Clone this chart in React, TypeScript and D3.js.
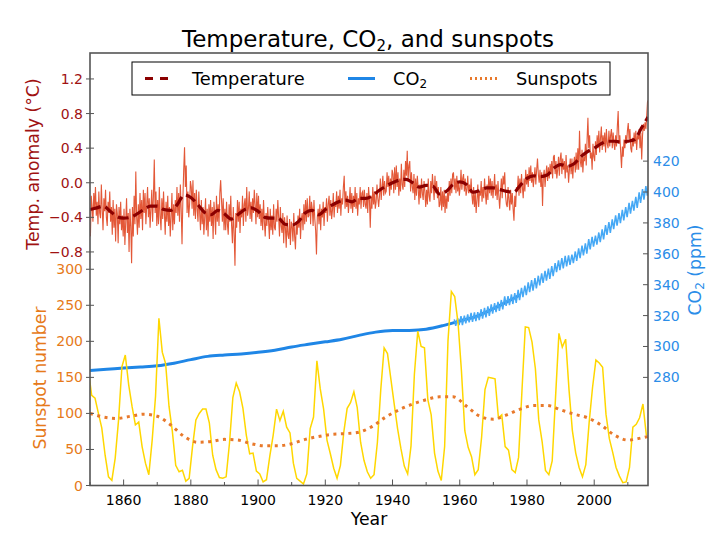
import React from 'react';
import * as d3 from 'd3';

// ---------------- data ----------------
// Quarterly temperature anomaly (°C), 1850.125 ... 2015.875
const tempRaw: number[] = [
  // 1850s
  -0.62, -0.15, -0.28, -0.45, -0.12, -0.30, -0.05, -0.38, -0.22, -0.48, -0.10, -0.35, -0.41, -0.02, -0.30, -0.55, -0.18, -0.33, -0.08, -0.40,
  -0.50, -0.22, -0.35, -0.10, -0.45, -0.28, -0.60, -0.20, -0.52, -0.30, -0.68, -0.25, -0.36, -0.70, -0.28, -0.48, -0.22, -0.55, -0.38, -0.62,
  // 1860s
  -0.30, -0.72, -0.45, -0.18, -0.58, -0.35, -0.80, -0.30, -0.50, -0.93, -0.28, -0.62, -0.15, -0.48, 0.13, -0.40, -0.60, -0.25, -0.52, -0.12,
  -0.42, -0.20, -0.55, -0.08, -0.35, -0.12, -0.48, -0.25, -0.05, -0.40, -0.18, -0.52, -0.30, -0.08, -0.45, -0.15, 0.27, -0.35, -0.10, -0.50,
  // 1870s
  -0.20, -0.48, -0.05, -0.38, -0.55, -0.18, -0.42, -0.10, -0.35, -0.60, -0.22, -0.45, -0.15, -0.50, -0.28, -0.62, -0.40, -0.12, -0.55, -0.25,
  -0.48, -0.20, -0.35, -0.05, -0.38, -0.12, -0.45, -0.02, -0.30, -0.71, -0.20, 0.15, 0.41, -0.05, 0.20, -0.35, -0.10, -0.40, -0.25, 0.02,
  // 1880s
  -0.05, -0.30, 0.03, -0.38, -0.12, -0.42, -0.08, -0.30, -0.45, -0.10, -0.35, -0.55, -0.20, -0.48, -0.28, -0.60, -0.40, -0.18, -0.55, -0.30,
  -0.62, -0.25, -0.45, -0.20, -0.50, -0.28, -0.65, -0.22, -0.38, -0.60, -0.15, -0.45, -0.25, -0.50, -0.12, 0.03, -0.20, -0.45, -0.18, -0.55,
  // 1890s
  -0.30, -0.55, -0.22, -0.48, -0.60, -0.25, -0.45, -0.15, -0.50, -0.70, -0.28, -0.58, -0.96, -0.35, -0.52, -0.20, -0.45, -0.22, -0.58, -0.30,
  -0.40, -0.15, -0.50, -0.25, -0.18, -0.45, -0.05, -0.38, -0.30, -0.10, -0.42, -0.22, -0.45, -0.18, -0.35, -0.08, -0.25, -0.48, -0.12, -0.40,
  // 1900s
  -0.15, -0.42, -0.25, -0.50, -0.30, -0.55, -0.20, -0.45, -0.62, -0.35, -0.50, -0.28, -0.45, -0.65, -0.30, -0.55, -0.38, -0.60, -0.25, -0.52,
  -0.55, -0.30, -0.45, -0.20, -0.40, -0.62, -0.28, -0.50, -0.58, -0.35, -0.70, -0.40, -0.52, -0.75, -0.38, -0.60, -0.65, -0.42, -0.72, -0.45,
  // 1910s
  -0.50, -0.68, -0.35, -0.62, -0.77, -0.45, -0.60, -0.38, -0.52, -0.30, -0.65, -0.42, -0.35, -0.55, -0.25, -0.48, -0.20, -0.45, -0.18, -0.40,
  -0.38, -0.15, -0.48, -0.22, -0.30, -0.50, -0.20, -0.42, -0.55, -0.83, -0.40, -0.30, -0.48, -0.25, -0.55, -0.30, -0.40, -0.22, -0.50, -0.28,
  // 1920s
  -0.35, -0.18, -0.45, -0.25, -0.15, -0.38, -0.20, -0.42, -0.32, -0.12, -0.40, -0.22, -0.28, -0.10, -0.35, -0.15, -0.30, -0.08, -0.38, -0.18,
  -0.25, -0.05, 0.08, -0.30, -0.10, -0.28, -0.15, -0.35, -0.22, -0.05, -0.30, -0.12, -0.35, -0.15, -0.28, -0.05, -0.30, -0.12, -0.38, -0.18,
  // 1930s
  -0.25, -0.05, -0.30, -0.12, -0.10, -0.28, -0.08, -0.25, -0.30, -0.12, -0.35, -0.05, -0.20, -0.52, -0.15, -0.30, -0.05, -0.25, -0.10, -0.30,
  -0.22, -0.02, -0.18, -0.28, -0.15, 0.05, -0.20, -0.05, 0.08, -0.15, 0.02, -0.12, -0.10, 0.12, -0.05, 0.08, -0.15, 0.05, -0.08, 0.15,
  // 1940s
  0.10, -0.12, 0.18, -0.08, 0.20, -0.05, 0.12, -0.15, 0.05, -0.10, 0.22, -0.02, -0.08, 0.15, -0.05, 0.25, 0.08, 0.37, 0.02, 0.20,
  0.25, -0.10, 0.12, -0.05, -0.12, 0.10, -0.20, 0.05, -0.15, 0.08, -0.05, -0.25, -0.02, -0.18, 0.05, -0.12, -0.20, 0.02, -0.10, -0.28,
  // 1950s
  -0.08, -0.25, 0.05, -0.15, -0.22, 0.02, -0.12, 0.10, -0.05, -0.20, 0.08, -0.12, 0.02, -0.18, -0.05, -0.28, -0.25, -0.05, -0.32, -0.10,
  -0.28, -0.08, -0.35, -0.15, -0.30, -0.12, -0.22, 0.02, -0.15, 0.05, -0.12, 0.10, 0.12, -0.08, 0.05, -0.12, 0.08, -0.10, 0.02, -0.15,
  // 1960s
  -0.05, 0.15, -0.08, 0.05, 0.10, -0.10, 0.05, -0.15, -0.08, 0.08, -0.12, -0.02, -0.12, 0.05, -0.15, -0.25, -0.05, -0.28, -0.12, -0.35,
  -0.20, -0.02, -0.28, -0.10, -0.15, 0.02, -0.22, -0.05, -0.18, 0.05, -0.12, -0.25, -0.02, -0.20, 0.08, -0.12, 0.05, -0.15, 0.02, -0.18,
  // 1970s
  -0.05, 0.10, -0.15, -0.02, -0.20, 0.02, -0.15, -0.30, -0.12, 0.05, -0.18, 0.08, -0.02, 0.12, -0.15, -0.25, -0.28, -0.05, -0.20, -0.32,
  -0.08, -0.25, -0.12, -0.30, -0.44, -0.15, -0.28, -0.05, -0.10, 0.08, -0.15, 0.05, -0.12, 0.10, -0.05, -0.18, 0.05, -0.10, 0.15, -0.02,
  // 1980s
  0.10, -0.05, 0.18, 0.02, 0.20, 0.00, 0.12, -0.05, 0.05, 0.18, -0.02, 0.15, 0.28, 0.10, 0.00, 0.15, -0.05, 0.12, -0.27, 0.08,
  0.15, -0.05, 0.10, 0.20, 0.02, 0.18, 0.05, 0.22, 0.10, 0.25, 0.05, 0.30, 0.32, 0.10, 0.25, 0.05, 0.15, 0.30, 0.08, 0.28,
  // 1990s
  0.35, 0.10, 0.28, 0.15, 0.25, 0.05, 0.32, 0.12, 0.20, 0.00, 0.15, 0.28, 0.10, 0.28, 0.05, 0.22, 0.30, 0.12, 0.35, 0.15,
  0.40, 0.15, 0.60, 0.25, 0.18, 0.38, 0.12, 0.30, 0.25, 0.45, 0.20, 0.50, 0.75, 0.40, 0.55, 0.28, 0.35, 0.15, 0.45, 0.30,
  // 2000s
  0.25, 0.48, 0.32, 0.55, 0.40, 0.60, 0.35, 0.52, 0.65, 0.38, 0.55, 0.42, 0.58, 0.35, 0.62, 0.45, 0.40, 0.60, 0.42, 0.55,
  0.62, 0.40, 0.58, 0.45, 0.38, 0.55, 0.42, 0.65, 0.83, 0.45, 0.55, 0.35, 0.17, 0.42, 0.30, 0.50, 0.40, 0.55, 0.45, 0.60,
  // 2010s
  0.69, 0.50, 0.62, 0.40, 0.35, 0.52, 0.42, 0.58, 0.45, 0.60, 0.38, 0.55, 0.50, 0.62, 0.40, 0.58, 0.27, 0.55, 0.68, 0.60,
  0.70, 0.62, 0.78, 0.95,
];

// Smoothed temperature, every 2 years 1850..2016
const tempSmooth: number[] = [
  -0.31, -0.29, -0.27, -0.33, -0.39, -0.41, -0.40, -0.36, -0.31, -0.27,
  -0.27, -0.31, -0.32, -0.25, -0.14, -0.17, -0.25, -0.34, -0.37, -0.32,
  -0.36, -0.42, -0.37, -0.31, -0.29, -0.33, -0.40, -0.41, -0.41, -0.48,
  -0.49, -0.45, -0.35, -0.32, -0.37, -0.31, -0.26, -0.22, -0.20, -0.22,
  -0.18, -0.18, -0.15, -0.09, -0.04, 0.00, 0.03, 0.04, 0.00, -0.05,
  -0.03, -0.04, -0.13, -0.10, -0.02, 0.01, -0.02, -0.11, -0.09, -0.06,
  -0.06, -0.08, -0.10, -0.11, -0.03, 0.05, 0.08, 0.07, 0.09, 0.17,
  0.21, 0.19, 0.22, 0.30, 0.36, 0.40, 0.45, 0.48, 0.48, 0.47,
  0.48, 0.50, 0.63, 0.76,
];

// Yearly sunspot number 1849..2015
const sunspots: number[] = [
  160,
  125, 121, 100, 80, 42, 12, 7, 38, 91, 165,
  181, 140, 110, 84, 88, 54, 31, 15, 63, 124,
  232, 185, 169, 110, 75, 28, 19, 21, 6, 10,
  54, 91, 100, 106, 106, 87, 42, 22, 11, 10,
  12, 59, 122, 142, 130, 107, 70, 44, 45, 20,
  16, 5, 8, 41, 70, 106, 90, 103, 81, 73,
  31, 10, 6, 2, 16, 79, 95, 173, 134, 106,
  63, 44, 24, 10, 28, 74, 107, 115, 130, 108,
  60, 35, 19, 10, 15, 60, 133, 191, 183, 148,
  113, 79, 51, 27, 16, 55, 154, 214, 193, 191,
  119, 98, 45, 20, 7, 54, 201, 269, 262, 225,
  159, 76, 53, 40, 15, 22, 67, 133, 150, 149,
  148, 94, 98, 54, 49, 22, 18, 39, 131, 220,
  219, 199, 162, 91, 61, 21, 15, 34, 123, 211,
  192, 203, 133, 76, 45, 25, 12, 29, 88, 136,
  174, 170, 164, 99, 65, 46, 25, 13, 4, 5,
  25, 81, 85, 94, 113, 70,
];

// Smoothed sunspot number
const sunSmoothYears: number[] = [
  1850, 1854, 1858, 1862, 1866, 1870, 1874, 1878, 1882, 1886, 1890, 1894, 1898, 1902, 1906,
  1910, 1914, 1918, 1922, 1926, 1930, 1934, 1938, 1942, 1946, 1950, 1954, 1958, 1962, 1966,
  1970, 1974, 1978, 1982, 1986, 1990, 1994, 1998, 2002, 2006, 2010, 2014, 2016,
];
const sunSmooth: number[] = [
  100, 95, 93, 96, 99, 96, 84, 68, 60, 61, 64, 63, 58, 55, 55,
  58, 64, 68, 71, 72, 74, 82, 95, 105, 113, 119, 123, 123, 110, 96,
  92, 98, 106, 111, 111, 105, 99, 94, 84, 70, 63, 66, 68,
];

// Ice-core CO2 (ppm)
const co2IceYears: number[] = [
  1850, 1855, 1860, 1865, 1870, 1875, 1880, 1885, 1890, 1895, 1900, 1905, 1910, 1915,
  1920, 1925, 1930, 1935, 1940, 1945, 1950, 1955, 1960, 1965, 1970, 1975, 1978,
];
const co2Ice: number[] = [
  284.5, 285.2, 286.0, 286.7, 287.5, 289.2, 291.5, 293.6, 294.5, 295.2, 296.2, 297.6, 299.7, 301.4,
  303.0, 304.7, 307.2, 309.3, 310.3, 310.4, 311.2, 313.5, 316.5, 319.5, 324.5, 330.0, 333.5,
];

// Mauna Loa CO2, May maxima and October minima, 1958..2016
const co2May: number[] = [
  317.5, 318.3, 319.6, 320.0, 320.8, 321.7, 322.1, 322.3, 324.1, 325.0,
  325.9, 327.3, 328.1, 328.9, 330.1, 332.5, 332.6, 333.7, 334.6, 336.6,
  338.0, 339.4, 341.5, 343.0, 344.2, 345.8, 347.4, 348.9, 350.4, 352.0,
  354.0, 355.7, 357.2, 358.6, 359.0, 359.5, 361.5, 363.6, 365.3, 366.8,
  369.5, 371.0, 371.8, 373.8, 375.8, 378.5, 380.5, 382.3, 384.9, 386.4,
  388.5, 390.2, 393.0, 394.3, 396.8, 399.8, 401.9, 403.9, 407.7,
];
const co2Oct: number[] = [
  313.3, 313.8, 313.9, 315.0, 315.6, 316.0, 316.4, 317.0, 318.1, 318.9,
  319.8, 321.3, 322.2, 323.1, 324.0, 326.3, 326.7, 327.5, 328.3, 330.0,
  331.9, 333.2, 335.2, 336.1, 337.6, 339.6, 341.1, 342.6, 343.8, 345.6,
  348.2, 349.5, 350.5, 351.9, 352.9, 353.9, 355.4, 357.2, 359.0, 360.1,
  362.8, 364.7, 366.0, 367.5, 369.4, 372.3, 373.6, 376.0, 378.2, 379.9,
  381.6, 383.7, 386.0, 387.9, 389.7, 392.9, 395.1, 397.6, 401.5,
];

const tempTicks = [-0.8, -0.4, 0.0, 0.4, 0.8, 1.2];
const sunTicks = [0, 50, 100, 150, 200, 250, 300];
const co2Ticks = [280, 300, 320, 340, 360, 380, 400, 420];
const yearTicks = [1860, 1880, 1900, 1920, 1940, 1960, 1980, 2000];
const yearMinor = [1850, 1870, 1890, 1910, 1930, 1950, 1970, 1990, 2010];

// ---------------- styles ----------------
const FONT = "'DejaVu Sans', Verdana, sans-serif";
const C_TEMP_RAW = '#e04622';
const C_TEMP_SMOOTH = '#8b0000';
const C_TEMP_AXIS = '#a01212';
const C_SUN_RAW = '#ffd700';
const C_SUN_SMOOTH = '#e8792b';
const C_SUN_AXIS = '#e67a1a';
const C_CO2 = '#1f86e6';
const C_CO2_ML = '#45a8f5';
const C_CO2_AXIS = '#2b8de8';
const C_SPINE = '#555555';

const L = 90, R = 648, T = 53, B = 485.5;

export default function App() {
  const x = d3.scaleLinear().domain([1850, 2016]).range([L, R]);
  const yT = d3.scaleLinear().domain([-3.5, 1.5]).range([B, T]);
  const yS = d3.scaleLinear().domain([0, 600]).range([B, T]);
  const yC = d3.scaleLinear().domain([210, 490]).range([B, T]);

  const rawPts: [number, number][] = tempRaw.map((v, i) => [1850 + i * 0.25 + 0.125, v]);
  const smPts: [number, number][] = tempSmooth.map((v, i) => [1850 + i * 2, v]);
  const sunPts: [number, number][] = sunspots.map((v, i) => [1849.5 + i, v]);
  const sunSmPts: [number, number][] = sunSmooth.map((v, i) => [sunSmoothYears[i], v]);
  const icePts: [number, number][] = co2Ice.map((v, i) => [co2IceYears[i], v]);
  const mlPts: [number, number][] = [];
  co2May.forEach((v, i) => {
    mlPts.push([1958.37 + i, v]);
    mlPts.push([1958.79 + i, co2Oct[i]]);
  });

  const lineT = d3.line<[number, number]>().x(d => x(d[0])).y(d => yT(d[1]));
  const lineTs = d3.line<[number, number]>().x(d => x(d[0])).y(d => yT(d[1])).curve(d3.curveMonotoneX);
  const lineS = d3.line<[number, number]>().x(d => x(d[0])).y(d => yS(d[1]));
  const lineSs = d3.line<[number, number]>().x(d => x(d[0])).y(d => yS(d[1])).curve(d3.curveMonotoneX);
  const lineCs = d3.line<[number, number]>().x(d => x(d[0])).y(d => yC(d[1])).curve(d3.curveMonotoneX);
  const lineC = d3.line<[number, number]>().x(d => x(d[0])).y(d => yC(d[1]));

  const fmtT = (v: number) => (v < 0 ? '\u2212' : '') + Math.abs(v).toFixed(1);

  return (
    <svg width={720} height={540} style={{ position: 'absolute', left: 0, top: 0, background: '#fff' }}
      fontFamily={FONT}>
      <defs>
        <clipPath id="plot">
          <rect x={L} y={T} width={R - L} height={B - T} />
        </clipPath>
      </defs>
      <rect x={0} y={0} width={720} height={540} fill="#fff" />

      <g clipPath="url(#plot)">
        <path d={lineT(rawPts) || ''} fill="none" stroke={C_TEMP_RAW} strokeWidth={1.1} strokeOpacity={0.9} />
        <path d={lineTs(smPts) || ''} fill="none" stroke={C_TEMP_SMOOTH} strokeWidth={3.2} strokeDasharray="11,5" />
        <path d={lineCs(icePts) || ''} fill="none" stroke={C_CO2} strokeWidth={3} />
        <path d={lineC(mlPts) || ''} fill="none" stroke={C_CO2_ML} strokeWidth={1.5} />
        <path d={lineS(sunPts) || ''} fill="none" stroke={C_SUN_RAW} strokeWidth={1.5} />
        <path d={lineSs(sunSmPts) || ''} fill="none" stroke={C_SUN_SMOOTH} strokeWidth={3} strokeDasharray="3,4.5" />
      </g>

      {/* spines */}
      <rect x={L} y={T} width={R - L} height={B - T} fill="none" stroke={C_SPINE} strokeWidth={1.6} />

      {/* temperature axis */}
      {tempTicks.map(v => (
        <g key={'t' + v}>
          <line x1={L - 4} x2={L + 4} y1={yT(v)} y2={yT(v)} stroke={C_SPINE} strokeWidth={1} />
          <text x={L - 7} y={yT(v) + 5} textAnchor="end" fontSize={14} fill={C_TEMP_AXIS}>{fmtT(v)}</text>
        </g>
      ))}
      <text transform={`translate(39,${164}) rotate(-90)`} textAnchor="middle" fontSize={17.3} fill={C_TEMP_AXIS}>
        Temp. anomaly (°C)
      </text>

      {/* sunspot axis */}
      {sunTicks.map(v => (
        <g key={'s' + v}>
          <line x1={L - 4} x2={L + 4} y1={yS(v)} y2={yS(v)} stroke={C_SPINE} strokeWidth={1} />
          <text x={L - 7} y={yS(v) + 5} textAnchor="end" fontSize={14} fill={C_SUN_AXIS}>{v}</text>
        </g>
      ))}
      <text transform={`translate(45.5,${378}) rotate(-90)`} textAnchor="middle" fontSize={17.3} fill={C_SUN_AXIS}>
        Sunspot number
      </text>

      {/* CO2 axis */}
      {co2Ticks.map(v => (
        <g key={'c' + v}>
          <line x1={R - 5} x2={R} y1={yC(v)} y2={yC(v)} stroke={C_SPINE} strokeWidth={1} />
          <text x={R + 5} y={yC(v) + 5} textAnchor="start" fontSize={14} fill={C_CO2_AXIS}>{v}</text>
        </g>
      ))}
      <text transform={`translate(701,${270}) rotate(-90)`} textAnchor="middle" fontSize={17.3} fill={C_CO2_AXIS}>
        CO<tspan fontSize={12} dy={3}>2</tspan><tspan dy={-3}> (ppm)</tspan>
      </text>

      {/* x axis */}
      {yearTicks.map(v => (
        <g key={'x' + v}>
          <line x1={x(v)} x2={x(v)} y1={B} y2={B - 6} stroke={C_SPINE} strokeWidth={1} />
          <text x={x(v)} y={505} textAnchor="middle" fontSize={14} fill="#000">{v}</text>
        </g>
      ))}
      {yearMinor.map(v => (
        <line key={'m' + v} x1={x(v)} x2={x(v)} y1={B} y2={B - 3.5} stroke={C_SPINE} strokeWidth={1} />
      ))}
      <text x={369} y={525} textAnchor="middle" fontSize={17.3} fill="#000">Year</text>

      {/* title */}
      <text x={368} y={47} textAnchor="middle" fontSize={23} fill="#000">
        Temperature, CO<tspan fontSize={15} dy={4}>2</tspan><tspan dy={-4}>, and sunspots</tspan>
      </text>

      {/* legend */}
      <g>
        <rect x={132} y={62} width={478} height={33} fill="#fff" stroke="#000" strokeWidth={1} />
        <line x1={145} x2={168} y1={78.5} y2={78.5} stroke={C_TEMP_SMOOTH} strokeWidth={3.2} strokeDasharray="8,7" />
        <text x={192} y={84.5} fontSize={17.8} fill="#000">Temperature</text>
        <line x1={348} x2={375} y1={78.5} y2={78.5} stroke={C_CO2} strokeWidth={3} />
        <text x={393} y={84.5} fontSize={17.8} fill="#000">CO<tspan fontSize={12} dy={3}>2</tspan></text>
        <line x1={470} x2={497} y1={78.5} y2={78.5} stroke={C_SUN_SMOOTH} strokeWidth={3} strokeDasharray="2,3" />
        <text x={516} y={84.5} fontSize={17.8} fill="#000">Sunspots</text>
      </g>
    </svg>
  );
}
